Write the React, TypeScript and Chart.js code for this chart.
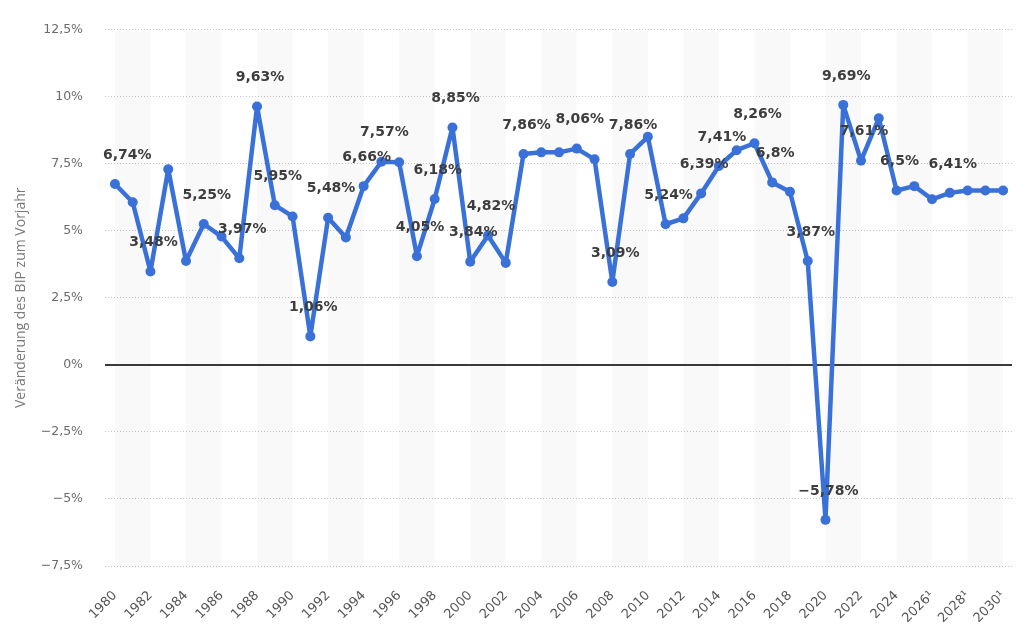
import React, { useEffect, useRef } from "react";
import { Chart, registerables } from "chart.js";

Chart.register(...registerables);

// Jahre der Zeitreihe (ab 2025 Prognose)
const years = [
  1980, 1981, 1982, 1983, 1984, 1985, 1986, 1987, 1988, 1989,
  1990, 1991, 1992, 1993, 1994, 1995, 1996, 1997, 1998, 1999,
  2000, 2001, 2002, 2003, 2004, 2005, 2006, 2007, 2008, 2009,
  2010, 2011, 2012, 2013, 2014, 2015, 2016, 2017, 2018, 2019,
  2020, 2021, 2022, 2023, 2024, 2025, 2026, 2027, 2028, 2029,
  2030,
];

// Veränderung des BIP gegenüber dem Vorjahr in %
const growth = [
  6.74, 6.06, 3.48, 7.29, 3.87, 5.25, 4.78, 3.97, 9.63, 5.95,
  5.53, 1.06, 5.48, 4.75, 6.66, 7.57, 7.55, 4.05, 6.18, 8.85,
  3.84, 4.82, 3.8, 7.86, 7.92, 7.92, 8.06, 7.66, 3.09, 7.86,
  8.5, 5.24, 5.46, 6.39, 7.41, 8.0, 8.26, 6.8, 6.45, 3.87,
  -5.78, 9.69, 7.61, 9.19, 6.5, 6.66, 6.17, 6.41, 6.5, 6.5,
  6.5,
];

// Jahre, deren Wert als Beschriftung am Punkt steht
const labelledYears = [
  1980, 1982, 1985, 1987, 1988, 1989, 1991, 1992, 1994, 1995,
  1997, 1998, 1999, 2000, 2001, 2003, 2006, 2008, 2009, 2011,
  2013, 2014, 2016, 2017, 2019, 2020, 2021, 2022, 2024, 2027,
];

// Beschriftete Jahre auf der x-Achse
const tickYears = [
  1980, 1982, 1984, 1986, 1988, 1990, 1992, 1994, 1996, 1998,
  2000, 2002, 2004, 2006, 2008, 2010, 2012, 2014, 2016, 2018,
  2020, 2022, 2024, 2026, 2028, 2030,
];
const footnoteYears = [2026, 2028, 2030];

const yTicks = [-7.5, -5, -2.5, 0, 2.5, 5, 7.5, 10, 12.5];

const BLUE = "#3a71d9";

const fmt = (v: number) =>
  (v < 0 ? "\u2212" : "") + String(Math.abs(v)).replace(".", ",") + "%";

// Hintergrundstreifen (je zwei Jahre, im Wechsel) und Nulllinie
const backdrop = {
  id: "backdrop",
  beforeDatasetsDraw(chart: any) {
    const { ctx, chartArea, scales } = chart;
    const x = scales.x;
    const y = scales.y;
    ctx.save();
    ctx.fillStyle = "rgba(0,0,0,0.022)";
    for (let i = 0; i < tickYears.length; i += 2) {
      const a = tickYears[i];
      const b = a + 2;
      if (b > years[years.length - 1]) break;
      const x0 = x.getPixelForValue(a);
      const x1 = x.getPixelForValue(b);
      ctx.fillRect(x0, chartArea.top + 2, x1 - x0, chartArea.bottom - chartArea.top);
    }
    const y0 = Math.round(y.getPixelForValue(0));
    ctx.strokeStyle = "#3a3a3a";
    ctx.lineWidth = 2;
    ctx.beginPath();
    ctx.moveTo(chartArea.left, y0);
    ctx.lineTo(chartArea.right, y0);
    ctx.stroke();
    ctx.restore();
  },
};

// Wertebeschriftungen über den Punkten
const valueLabels = {
  id: "valueLabels",
  afterDatasetsDraw(chart: any) {
    const { ctx, chartArea } = chart;
    const meta = chart.getDatasetMeta(0);
    ctx.save();
    ctx.font = "bold 14px 'DejaVu Sans'";
    ctx.fillStyle = "#3d3d3d";
    ctx.textAlign = "center";
    ctx.textBaseline = "middle";
    labelledYears.forEach((yr) => {
      const i = years.indexOf(yr);
      const pt = meta.data[i];
      if (!pt) return;
      const text = fmt(growth[i]);
      const w = ctx.measureText(text).width;
      let cx = pt.x + 3;
      if (cx - w / 2 < chartArea.left - 2) cx = chartArea.left - 2 + w / 2;
      ctx.fillText(text, cx, pt.y - 29);
    });
    ctx.restore();
  },
};

export default function App() {
  const ref = useRef<HTMLCanvasElement | null>(null);

  useEffect(() => {
    if (!ref.current) return;
    const chart = new Chart(ref.current, {
      type: "line",
      data: {
        datasets: [
          {
            data: years.map((yr, i) => ({ x: yr, y: growth[i] })),
            borderColor: BLUE,
            backgroundColor: BLUE,
            borderWidth: 4.5,
            borderJoinStyle: "round",
            borderCapStyle: "round",
            pointRadius: 5,
            pointBackgroundColor: BLUE,
            pointBorderWidth: 0,
            tension: 0,
          },
        ],
      },
      options: {
        responsive: false,
        animation: false,
        layout: { padding: { top: 25, right: 12, left: 0, bottom: 0 } },
        plugins: {
          legend: { display: false },
          tooltip: { enabled: false },
        },
        scales: {
          x: {
            type: "linear",
            min: 1979.44,
            max: 2030.5,
            grid: { display: false },
            border: { display: false },
            afterBuildTicks: (s: any) => {
              s.ticks = tickYears.map((v) => ({ value: v }));
            },
            afterFit: (s: any) => {
              s.height = 78;
              s.paddingLeft = 0;
              s.paddingRight = 0;
            },
            ticks: {
              autoSkip: false,
              minRotation: 45,
              maxRotation: 45,
              padding: 14,
              color: "#555",
              font: { family: "'DejaVu Sans'", size: 13 },
              callback: (v: any) =>
                footnoteYears.includes(v) ? `${v}\u00b9` : `${v}`,
            },
          },
          y: {
            min: -7.5,
            max: 12.5,
            afterBuildTicks: (s: any) => {
              s.ticks = yTicks.map((v) => ({ value: v }));
            },
            afterFit: (s: any) => {
              s.width = 105;
            },
            grid: {
              color: "#c4c4c4",
              lineWidth: 1,
              drawTicks: false,
            },
            border: { display: false, dash: [1, 2] },
            ticks: {
              padding: 22,
              color: "#6b6b6b",
              font: { family: "'DejaVu Sans'", size: 12.5 },
              callback: (v: any) => fmt(Number(v)),
            },
            title: {
              display: true,
              text: "Veränderung des BIP zum Vorjahr",
              color: "#7a7a7a",
              font: { family: "'Open Sans'", size: 14 },
              padding: { top: 13, bottom: 0 },
            },
          },
        },
      },
      plugins: [backdrop, valueLabels],
    });
    return () => chart.destroy();
  }, []);

  return (
    <div style={{ position: "absolute", left: 0, top: 0, width: 1024, height: 644, background: "#fff" }}>
      <canvas ref={ref} width={1024} height={644} />
    </div>
  );
}
